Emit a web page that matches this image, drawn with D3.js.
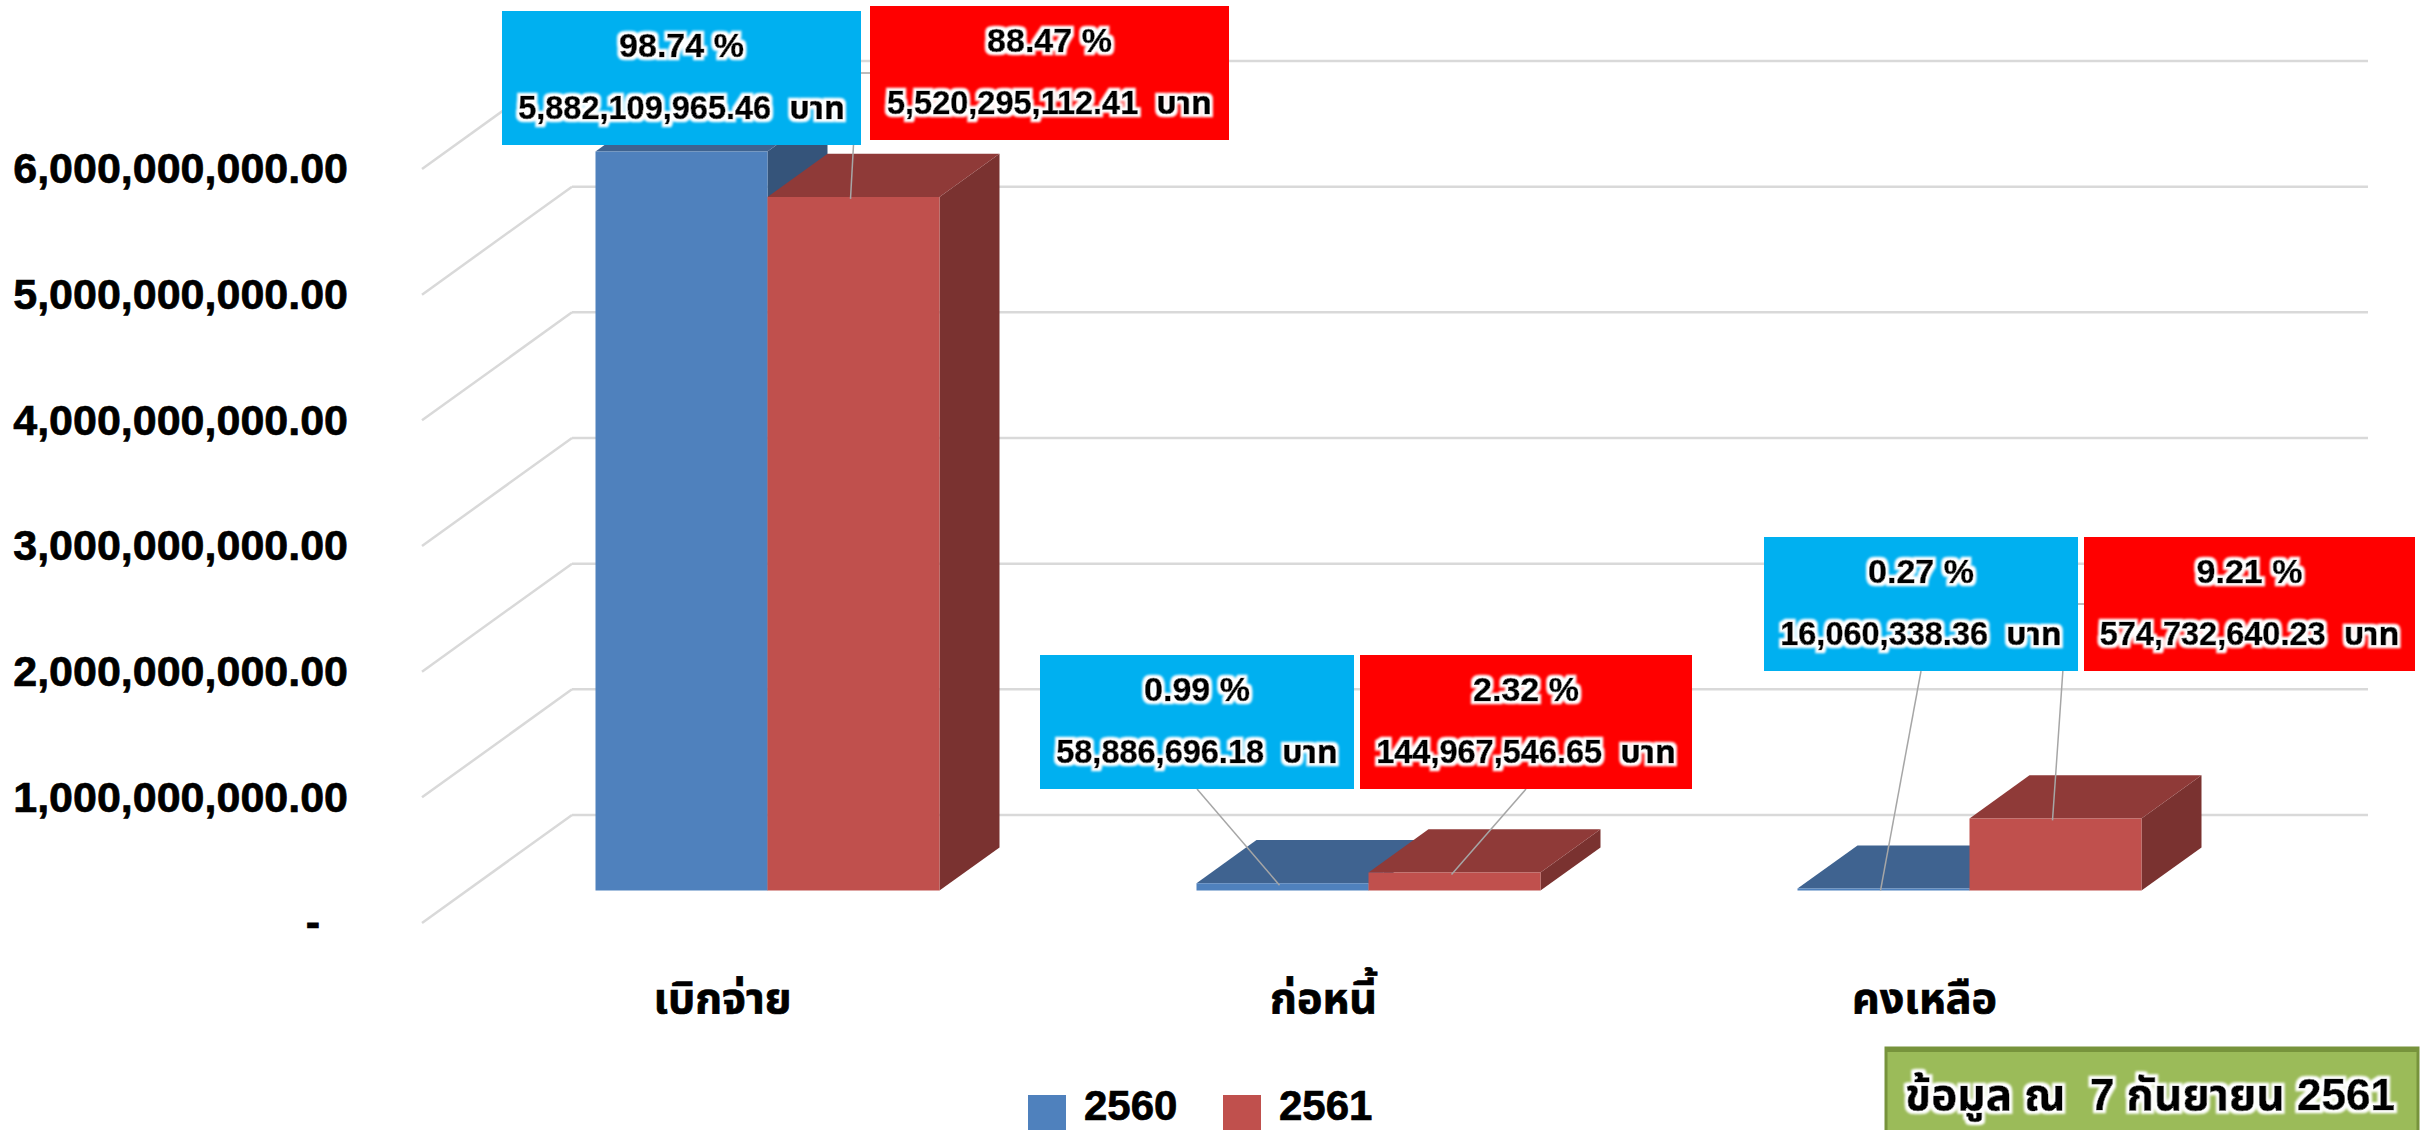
<!DOCTYPE html>
<html>
<head>
<meta charset="utf-8">
<script src="https://cdn.jsdelivr.net/npm/d3@7"></script>
<style>
  html, body { margin: 0; padding: 0; background: #fff; overflow: hidden; }
  text { font-family: "Liberation Sans", "Noto Sans Thai", "Noto Sans", sans-serif; font-weight: 700; fill: #000; stroke: #000; stroke-width: 0.7px; }
</style>
</head>
<body>
<div id="chart"></div>
<script>
// ---- DATA ----
const categories = ['เบิกจ่าย', 'ก่อหนี้', 'คงเหลือ'];
const seriesNames = ['2560', '2561'];
const values2560 = [5882109965.46, 58886696.18, 16060338.36];
const values2561 = [5520295112.41, 144967546.65, 574732640.23];
const percent2560 = ['98.74', '0.99', '0.27'];
const percent2561 = ['88.47', '2.32', '9.21'];
const yTicks = [0, 1e9, 2e9, 3e9, 4e9, 5e9, 6e9];
const noteText = 'ข้อมูล ณ  7 กันยายน 2561';

// ---- LAYOUT ----
const W = 2425, H = 1130;
const wallDx = 150, wallDy = 108;      // oblique offset of the back wall
const depthFront = 0.3, depthBack = 0.7;
const barW = 172;

const colors = {
  '2560': { front: '#4f81bd', top: '#3f6390', side: '#35547a', box: '#00b0f0' },
  '2561': { front: '#c0504d', top: '#8f3a38', side: '#7a3230', box: '#ff0000' }
};

// callout boxes were hand placed in the original: [x, y, width] per category
const boxes = {
  '2560': [[502, 11, 359], [1040, 655, 314], [1764, 537, 314]],
  '2561': [[870, 6, 359], [1360, 655, 332], [2084, 537, 331]]
};
const boxH = 134;

const svg = d3.select('#chart').append('svg')
  .attr('width', W).attr('height', H)
  .attr('viewBox', `0 0 ${W} ${H}`)
  .style('display', 'block');

// white glow behind callout text
const glow = svg.append('defs').append('filter').attr('id', 'glow')
  .attr('x', '-10%').attr('y', '-30%').attr('width', '120%').attr('height', '160%');
glow.append('feMorphology').attr('in', 'SourceAlpha').attr('operator', 'dilate').attr('radius', 2.5).attr('result', 'd');
glow.append('feGaussianBlur').attr('in', 'd').attr('stdDeviation', 1.2).attr('result', 'b');
glow.append('feFlood').attr('flood-color', '#fff');
glow.append('feComposite').attr('in2', 'b').attr('operator', 'in').attr('result', 'w');
const gm = glow.append('feMerge');
gm.append('feMergeNode').attr('in', 'w');
gm.append('feMergeNode').attr('in', 'SourceGraphic');

// scales are on the front plane, project() pushes a point back in depth
const x = d3.scaleBand().domain(categories).range([422, 2225]);
const y = d3.scaleLinear().domain([0, 6e9]).range([923, 169]);
const project = (px, py, d) => [px + d * wallDx, py - d * wallDy];
const poly = pts => pts.map(p => p.join(',')).join(' ');

// ---- GRID LINES ----
const grid = svg.append('g').attr('fill', 'none').attr('stroke', '#d9d9d9').attr('stroke-width', 2.5);
grid.selectAll('.wall').data(yTicks).join('line')
  .attr('x1', project(x.range()[0], 0, 1)[0])
  .attr('x2', project(x.range()[1], 0, 1)[0] - 7)
  .attr('y1', d => project(0, y(d), 1)[1])
  .attr('y2', d => project(0, y(d), 1)[1]);
grid.selectAll('.floor').data(yTicks).join('line')
  .attr('x1', x.range()[0])
  .attr('x2', project(x.range()[0], 0, 1)[0])
  .attr('y1', d => y(d))
  .attr('y2', d => project(0, y(d), 1)[1]);

// ---- Y AXIS ----
svg.append('g')
  .attr('transform', `translate(${x.range()[0]},0)`)
  .call(d3.axisLeft(y).tickValues(yTicks).tickSize(0).tickPadding(74)
    .tickFormat(d => d === 0 ? '-' : d3.format(',.2f')(d)))
  .call(g => g.select('.domain').remove())
  .call(g => g.selectAll('text')
    .style('font-size', '43px')
    .attr('dx', d => d === 0 ? -28 : 0));

// ---- X AXIS ----
svg.append('g')
  .attr('transform', `translate(0,${y(0)})`)
  .call(d3.axisBottom(x).tickSize(0).tickPadding(59))
  .call(g => g.select('.domain').remove())
  .call(g => g.selectAll('text')
    .style('font-size', '43px'));

// ---- BARS ----
const rows = [];
categories.forEach((c, i) => {
  rows.push({ c, i, s: '2560', v: values2560[i], pct: percent2560[i], off: 0 });
  rows.push({ c, i, s: '2561', v: values2561[i], pct: percent2561[i], off: barW });
});

const bars = svg.append('g').selectAll('g').data(rows).join('g');
const geom = d => {
  const cx = x(d.c) + x.bandwidth() / 2 - barW + d.off;
  const a = (px, v, depth) => project(px, y(v), depth);
  return {
    fl: a(cx, 0, depthFront), fr: a(cx + barW, 0, depthFront),
    tl: a(cx, d.v, depthFront), tr: a(cx + barW, d.v, depthFront),
    bl: a(cx, d.v, depthBack), br: a(cx + barW, d.v, depthBack),
    br0: a(cx + barW, 0, depthBack)
  };
};
bars.append('polygon')
  .attr('fill', d => colors[d.s].side)
  .attr('points', d => { const g = geom(d); return poly([g.fr, g.tr, g.br, g.br0]); });
bars.append('polygon')
  .attr('fill', d => colors[d.s].top)
  .attr('points', d => { const g = geom(d); return poly([g.tl, g.tr, g.br, g.bl]); });
bars.append('polygon')
  .attr('fill', d => colors[d.s].front)
  .attr('points', d => { const g = geom(d); return poly([g.fl, g.fr, g.tr, g.tl]); });

// ---- LEADER LINES + CALLOUTS ----
const leader = d3.line();
const leaderPts = d => {
  const g = geom(d);
  const end = [(g.tl[0] + g.tr[0]) / 2 - 3, g.tl[1] + 2];
  const b = boxes[d.s][d.i];
  // red tallest and red remainder leave from the side of the box with an elbow
  if (d.s === '2561' && d.i !== 1) {
    const midY = b[1] + boxH / 2;
    const elbow = d.i === 0 ? end[0] + 7 : end[0] + 15;
    return [[b[0], midY], [elbow, midY], end];
  }
  return [[b[0] + b[2] / 2, b[1] + boxH], end];
};
// the blue leader of the first group sits under its own box, not drawn
svg.append('g').selectAll('path').data(rows.filter(d => !(d.s === '2560' && d.i === 0))).join('path')
  .attr('fill', 'none').attr('stroke', '#a6a6a6').attr('stroke-width', 1.5)
  .attr('d', d => leader(leaderPts(d)));

const callouts = svg.append('g').selectAll('g').data(rows).join('g')
  .attr('transform', d => `translate(${boxes[d.s][d.i][0]},${boxes[d.s][d.i][1]})`);
callouts.append('rect')
  .attr('width', d => boxes[d.s][d.i][2]).attr('height', boxH)
  .attr('fill', d => colors[d.s].box);
callouts.append('text')
  .attr('x', d => boxes[d.s][d.i][2] / 2).attr('y', 46)
  .attr('text-anchor', 'middle').attr('filter', 'url(#glow)')
  .style('font-size', '34px')
  .text(d => d.pct + ' %');
callouts.append('text')
  .attr('x', d => boxes[d.s][d.i][2] / 2).attr('y', 108)
  .attr('text-anchor', 'middle').attr('filter', 'url(#glow)')
  .style('font-size', '32.5px').style('white-space', 'pre')
  .text(d => d3.format(',.2f')(d.v) + '  บาท');

// ---- LEGEND ----
const legendX = d3.scaleOrdinal().domain(seriesNames).range([1028, 1223]);
const legend = svg.append('g').selectAll('g').data(seriesNames).join('g')
  .attr('transform', d => `translate(${legendX(d)},1095)`);
legend.append('rect').attr('width', 38).attr('height', 35).attr('fill', d => colors[d].front);
legend.append('text').attr('x', 56).attr('y', 25).style('font-size', '42px').text(d => d);

// ---- DATE NOTE ----
const note = svg.append('g');
note.append('rect').attr('x', 1886).attr('y', 1048).attr('width', 532).attr('height', 90)
  .attr('fill', '#9bbb59').attr('stroke', '#77933c').attr('stroke-width', 3);
note.append('rect').attr('x', 1885).attr('y', 1047).attr('width', 534).attr('height', 5).attr('fill', '#77933c');
note.append('text').attr('x', 2150).attr('y', 1110)
  .attr('text-anchor', 'middle').attr('filter', 'url(#glow)')
  .style('font-size', '44px').style('white-space', 'pre')
  .text(noteText);
</script>
</body>
</html>
